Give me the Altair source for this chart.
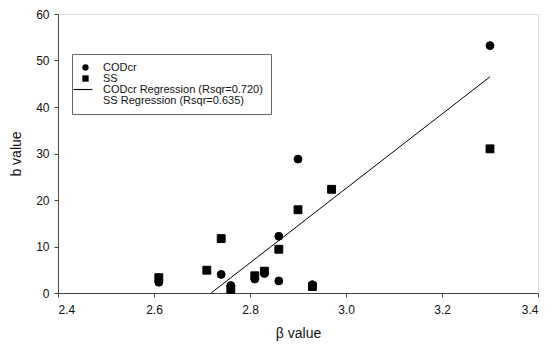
import altair as alt
import pandas as pd

# CODcr data (circles)
cod_beta = [2.61, 2.74, 2.76, 2.81, 2.83, 2.86, 2.86, 2.90, 2.93, 3.30]
cod_b = [2.3, 4.0, 1.6, 3.0, 4.2, 12.2, 2.6, 28.8, 1.8, 53.2]

# SS data (squares)
ss_beta = [2.61, 2.71, 2.74, 2.76, 2.81, 2.83, 2.86, 2.90, 2.93, 2.97, 3.30]
ss_b = [3.3, 4.9, 11.7, 0.8, 3.7, 4.7, 9.4, 17.9, 1.4, 22.3, 31.0]

# Regression line (CODcr)
reg_beta = [2.719, 3.30]
reg_b = [0.0, 46.5]

legend_labels = ["CODcr", "SS", "CODcr Regression (Rsqr=0.720)", "SS Regression (Rsqr=0.635)"]
legend_shapes = ["circle", "square", "M-3.8,-0.17L2.2,-0.17L2.2,0.17L-3.8,0.17Z", "M0,0"]

x_ticks = [2.4, 2.6, 2.8, 3.0, 3.2, 3.4]
y_ticks = [0, 10, 20, 30, 40, 50, 60]

pts = pd.DataFrame({
    "beta": cod_beta + ss_beta,
    "b": cod_b + ss_b,
    "series": ["CODcr"] * len(cod_beta) + ["SS"] * len(ss_beta),
})
reg = pd.DataFrame({"beta": reg_beta, "b": reg_b})

FONT = "Liberation Sans"

xscale = alt.Scale(domain=[2.4, 3.4], nice=False, zero=False)
yscale = alt.Scale(domain=[0, 60], nice=False)

xaxis = alt.Axis(values=x_ticks, format=".1f", title="β value", grid=False,
                 labelFontSize=12, titleFontSize=14, labelPadding=7, titlePadding=11,
                 tickSize=4, labelFont=FONT, titleFont=FONT, labelColor="#111",
                 titleColor="#111", domainColor="#444", tickColor="#444",
                 titleFontWeight="normal")
yaxis = alt.Axis(values=y_ticks, title="b value", grid=False,
                 labelFontSize=12, titleFontSize=14, labelPadding=5, titlePadding=12,
                 tickSize=4, labelFont=FONT, titleFont=FONT, labelColor="#111",
                 titleColor="#111", domainColor="#444", tickColor="#444",
                 titleFontWeight="normal")

points = alt.Chart(pts).mark_point(filled=True, size=62, color="black", stroke="black",
                                   strokeWidth=1, opacity=1).encode(
    x=alt.X("beta:Q", scale=xscale, axis=xaxis),
    y=alt.Y("b:Q", scale=yscale, axis=yaxis),
    shape=alt.Shape("series:N",
                    scale=alt.Scale(domain=legend_labels, range=legend_shapes),
                    legend=alt.Legend(title=None, orient="none", legendX=14, legendY=40,
                                      labelFont=FONT, labelFontSize=11, labelColor="#111",
                                      symbolSize=40, symbolStrokeColor="black",
                                      symbolStrokeWidth=1, symbolFillColor="black",
                                      strokeColor="#666", fillColor="white",
                                      padding=8, rowPadding=-1.5, labelOffset=12,
                                      labelLimit=300)),
)

line = alt.Chart(reg).mark_line(color="black", strokeWidth=1).encode(
    x=alt.X("beta:Q", scale=xscale),
    y=alt.Y("b:Q", scale=yscale),
)

chart = alt.layer(line, points).properties(
    width=480, height=279,
    autosize=alt.AutoSizeParams(type="none"),
    padding={"left": 58, "top": 14, "right": 18, "bottom": 55},
).configure_view(stroke="#777", strokeWidth=1).configure(background="white")

chart.save("out.html", embed_options={"renderer": "svg", "actions": False})
